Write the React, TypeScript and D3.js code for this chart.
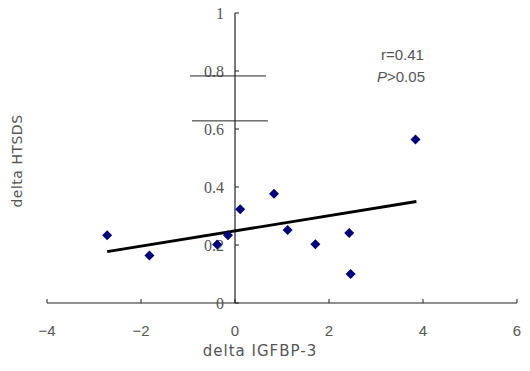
import React from 'react';
import * as d3 from 'd3';

const xs = [-2.72, -1.82, -0.38, -0.15, 0.11, 0.83, 1.12, 1.71, 2.43, 2.46, 3.84];
const ys = [0.234, 0.164, 0.202, 0.234, 0.323, 0.377, 0.252, 0.203, 0.241, 0.1, 0.564];
const trendX = [-2.72, 3.86];
const trendY = [0.177, 0.35];
const xTicks = [-4, -2, 0, 2, 4, 6];
const yTicks = [0, 0.2, 0.4, 0.6, 0.8, 1];
// two stray horizontal bars in the original figure
const barY = [0.783, 0.628];
const barX0 = [-0.957, -0.915];
const barX1 = [0.66, 0.7];

export default function App(): JSX.Element {
  const x = d3.scaleLinear().domain([-4, 6]).range([47, 517]);
  const y = d3.scaleLinear().domain([0, 1]).range([303, 13]);
  const diamond = d3.symbol(d3.symbolSquare, 50)();
  const line = d3.line<number>().x((d) => x(d)).y((_, i) => y(trendY[i]));
  const grey = '#555';
  return (
    <svg width={530} height={371} style={{ position: 'absolute', left: 0, top: 0, background: '#fff' }}>
      {/* x axis */}
      <line x1={x(-4)} x2={x(6)} y1={y(0)} y2={y(0)} stroke="#222" strokeWidth={1.2} />
      {xTicks.map((t) => (
        <g key={'xt' + t}>
          <line x1={x(t)} x2={x(t)} y1={y(0)} y2={y(0) - 4} stroke="#222" />
          <text x={x(t)} y={336} textAnchor="middle" fill={grey} fontFamily="Liberation Sans" fontSize={15}>
            {t < 0 ? '−' + Math.abs(t) : t}
          </text>
        </g>
      ))}
      {/* y axis */}
      <line x1={x(0)} x2={x(0)} y1={y(0)} y2={y(1)} stroke="#222" strokeWidth={1.2} />
      {yTicks.map((t) => (
        <g key={'yt' + t}>
          <line x1={x(0)} x2={x(0) + 4} y1={y(t)} y2={y(t)} stroke="#222" />
          <text x={x(0) - 11} y={y(t) + 6} textAnchor="end" fill={grey} fontFamily="Liberation Serif, serif" fontSize={16}>
            {d3.format('~g')(t)}
          </text>
        </g>
      ))}
      {barY.map((b, i) => (
        <line key={'b' + i} x1={x(barX0[i])} x2={x(barX1[i])} y1={y(b)} y2={y(b)} stroke="#222" strokeWidth={1} />
      ))}
      <path d={line(trendX) || ''} stroke="#000" strokeWidth={2.8} fill="none" />
      {xs.map((v, i) => (
        <path key={'p' + i} d={diamond || ''} transform={`translate(${x(v)},${y(ys[i])}) rotate(45)`} fill="#00007a" />
      ))}
      <text x={381} y={60} fill={grey} fontFamily="Liberation Sans Narrow, Liberation Sans" fontSize={15}>r=0.41</text>
      <text x={377} y={82} fill={grey} fontFamily="Liberation Sans Narrow, Liberation Sans" fontSize={15}>
        <tspan fontStyle="italic">P</tspan>&gt;0.05
      </text>
      <text x={260} y={356} textAnchor="middle" fill={grey} fontFamily="DejaVu Sans" fontSize={15} letterSpacing={1}>
        delta IGFBP-3
      </text>
      <text transform="translate(22,161) rotate(-90)" textAnchor="middle" fill={grey} fontFamily="DejaVu Sans" fontSize={14} letterSpacing={0.5}>
        delta HTSDS
      </text>
    </svg>
  );
}
